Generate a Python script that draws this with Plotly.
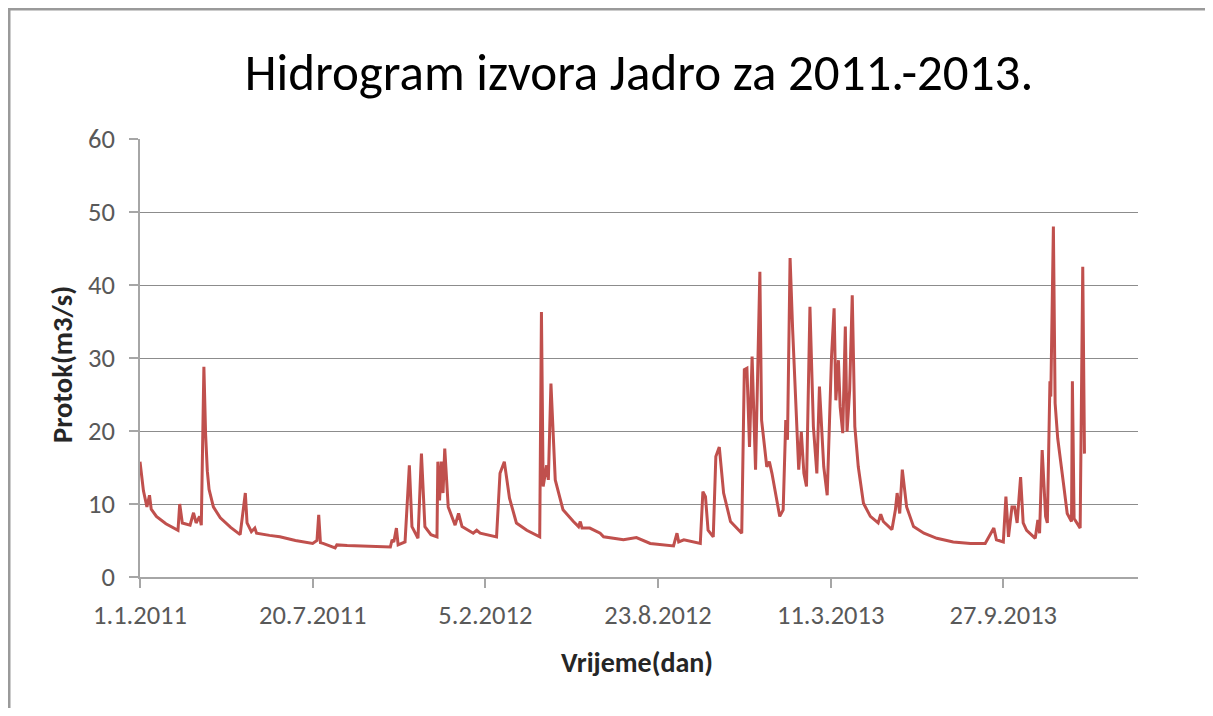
import pandas as pd
import plotly.graph_objects as go

# ---- data ----
start_date = "2011-01-01"
day_offsets = [
    0, 4, 8, 11, 13, 19, 30, 44, 46, 49, 58, 62, 65, 69, 71, 74, 76, 78, 80, 85, 93, 105,
    116, 122, 124, 129, 133, 135, 150, 162, 180, 200, 205, 207, 209, 212, 226, 228, 240, 266,
    290, 292, 294, 297, 299, 307, 312, 315, 322, 326, 330, 337, 344, 345, 347, 349, 351, 353,
    357, 365, 369, 373, 386, 390, 394, 413, 417, 422, 425, 428, 436, 448, 463, 465, 467, 471,
    473, 476, 481, 490, 502, 508, 510, 512, 521, 533, 537, 560, 575, 591, 618, 622, 624, 630,
    649, 652, 655, 658, 664, 667, 671, 676, 684, 697, 700, 703, 706, 709, 713, 718, 720, 726,
    729, 732, 741, 745, 748, 750, 753, 756, 763, 766, 769, 772, 776, 780, 784, 787, 792, 796,
    801, 804, 806, 809, 811, 814, 817, 819, 822, 825, 828, 832, 838, 846, 855, 858, 861, 871,
    875, 877, 880, 883, 888, 896, 908, 923, 942, 962, 979, 984, 989, 992, 1000, 1003, 1006,
    1010, 1013, 1016, 1020, 1023, 1027, 1037, 1040, 1042, 1045, 1049, 1051, 1054, 1055, 1058,
    1060, 1063, 1066, 1070, 1074, 1079, 1080, 1082, 1089, 1092, 1094,
]
protok = [
    15.8, 11.8, 9.6, 11.2, 9.3, 8.3, 7.3, 6.4, 10.0, 7.4, 7.1, 8.8, 7.4, 8.3, 7.1, 28.8, 19.5, 14.5, 12.0, 9.6, 8.1, 6.8,
    5.8, 11.5, 7.4, 6.2, 6.7, 6.0, 5.7, 5.5, 5.0, 4.6, 5.0, 8.5, 4.7, 4.6, 4.0, 4.4, 4.3, 4.2,
    4.1, 5.1, 4.8, 6.7, 4.4, 4.8, 15.3, 6.9, 5.3, 16.9, 6.9, 5.8, 5.5, 15.8, 10.5, 15.8, 11.5, 17.6,
    9.6, 7.1, 8.7, 6.9, 6.0, 6.4, 6.0, 5.5, 14.2, 15.8, 13.3, 10.8, 7.4, 6.4, 5.5, 36.3, 12.4, 15.3,
    13.3, 26.5, 13.3, 9.2, 7.6, 6.9, 7.6, 6.7, 6.7, 6.0, 5.5, 5.1, 5.4, 4.6, 4.25, 6.0, 4.8, 5.1,
    4.6, 11.7, 11.0, 6.4, 5.5, 16.5, 17.8, 11.5, 7.6, 6.0, 28.4, 28.6, 17.8, 30.2, 14.7, 41.8, 21.5, 15.1,
    15.8, 14.2, 8.3, 9.2, 21.5, 18.8, 43.7, 33.8, 14.7, 19.9, 14.2, 12.4, 37.0, 20.6, 14.2, 26.1, 15.1, 11.2,
    30.2, 36.8, 24.2, 29.7, 23.3, 19.7, 34.3, 19.9, 25.6, 38.6, 20.6, 15.1, 10.1, 8.3, 7.4, 8.6, 7.6, 6.5,
    9.2, 11.5, 8.7, 14.7, 9.6, 6.9, 6.0, 5.3, 4.8, 4.6, 4.6, 5.75, 6.7, 5.1, 4.8, 11.0, 5.5,
    9.6, 9.6, 7.4, 13.7, 7.4, 6.4, 5.3, 7.8, 6.0, 17.4, 8.3, 7.4, 26.8, 24.7, 48.0,
    23.8, 19.0, 16.5, 12.5, 8.7, 7.6, 26.8, 8.0, 6.7, 42.5, 16.9,
]
tick_dates = ["2011-01-01", "2011-07-20", "2012-02-05", "2012-08-23", "2013-03-11", "2013-09-27"]
tick_labels = ["1.1.2011", "20.7.2011", "5.2.2012", "23.8.2012", "11.3.2013", "27.9.2013"]
y_ticks = [0, 10, 20, 30, 40, 50, 60]

title_text = "Hidrogram izvora Jadro za 2011.-2013."
x_title = "Vrijeme(dan)"
y_title = "Protok(m3/s)"

dates = pd.Timestamp(start_date) + pd.to_timedelta(day_offsets, unit="D")

FONT = "Calibri, Carlito, 'Open Sans', sans-serif"

fig = go.Figure()
fig.add_trace(go.Scatter(
    x=dates, y=protok, mode="lines",
    line=dict(color="#C0504D", width=3),
    showlegend=False, hoverinfo="x+y",
))

# page offset of 8px (body margin) is compensated here; keep page within window
OFF = 8
W, H = 1213 - OFF, 716 - 2 * OFF
L, T = 140 - OFF, 139 - OFF
pw, ph = 998, 438
R, B = W - L - pw, H - T - ph

def px_x(px):
    return (px - OFF - L) / pw

def px_y(py):
    return (T + ph - (py - OFF)) / ph

fig.update_layout(
    width=W, height=H,
    margin=dict(l=L, r=R, t=T, b=B),
    paper_bgcolor="white", plot_bgcolor="white",
    font=dict(family=FONT, color="#595959"),
    title=dict(
        text=title_text, x=0.5, xref="paper", xanchor="center",
        y=1 - (72 - OFF) / H, yref="container", yanchor="middle",
        font=dict(size=51, color="#000000", family=FONT),
    ),
    xaxis=dict(
        type="date",
        range=["2011-01-01", "2014-03-02"],
        tickmode="array", tickvals=tick_dates, ticktext=tick_labels,
        showgrid=False, zeroline=False,
        showline=True, linecolor="#A6A6A6", linewidth=1.5,
        ticks="outside", ticklen=9, tickcolor="#A6A6A6", tickwidth=1.5,
        tickfont=dict(size=26.5, color="#595959"),
        ticklabelstandoff=4,
    ),
    yaxis=dict(
        range=[0, 60], tickmode="array", tickvals=y_ticks,
        showgrid=True, gridcolor="#8C8C8C", gridwidth=1.3,
        zeroline=False,
        showline=True, linecolor="#A6A6A6", linewidth=1.5,
        ticks="outside", ticklen=9, tickcolor="#A6A6A6", tickwidth=1.5,
        tickfont=dict(size=26.5, color="#595959"),
        ticklabelstandoff=9,
    ),
    annotations=[
        dict(text=f"<b>{x_title}</b>", xref="paper", yref="paper",
             x=px_x(637), y=px_y(662), xanchor="center", yanchor="middle",
             showarrow=False, font=dict(size=28, color="#262626", family=FONT)),
        dict(text=f"<b>{y_title}</b>", xref="paper", yref="paper",
             x=px_x(62), y=px_y(365), xanchor="center", yanchor="middle",
             textangle=-90, showarrow=False,
             font=dict(size=28.5, color="#262626", family=FONT)),
    ],
    shapes=[
        dict(type="line", xref="paper", yref="paper",
             x0=px_x(9), x1=px_x(9), y0=px_y(8), y1=px_y(716),
             line=dict(color="#9A9A9A", width=3)),
        dict(type="line", xref="paper", yref="paper",
             x0=px_x(8), x1=px_x(1213), y0=px_y(9), y1=px_y(9),
             line=dict(color="#9A9A9A", width=3)),
    ],
)

fig.write_html(
    "out.html",
    post_script="document.documentElement.style.overflow='hidden';document.body.style.overflow='hidden';",
)
